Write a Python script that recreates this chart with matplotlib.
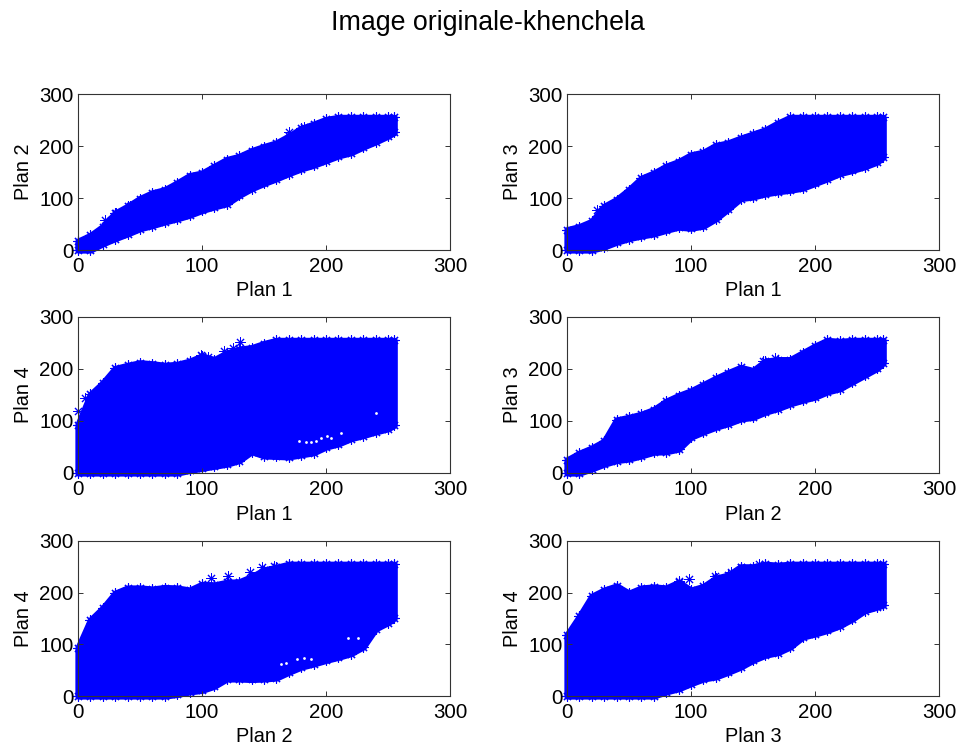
"""Nuages de points entre plans de l'image, six panneaux."""

import matplotlib

matplotlib.use("Agg")
import matplotlib.pyplot as plt

plt.rcParams["font.family"] = ["Liberation Sans", "DejaVu Sans"]

PLAN_X = [0, 10, 20, 30, 40, 50, 60, 70, 80, 90, 100, 110, 120, 130, 140, 150, 160,
          170, 180, 190, 200, 210, 220, 230, 240, 250, 255]

# Enveloppes (centres des marqueurs)
P12_LOW = [0, 0, 12, 22, 31, 41, 47, 54, 60, 67, 76, 83, 89, 105, 118, 128, 137,
           147, 156, 163, 172, 181, 187, 198, 208, 219, 226]
P12_HIGH = [17, 28, 45, 71, 84, 99, 110, 116, 129, 143, 148, 161, 174, 180, 191, 199, 206,
            219, 234, 242, 251, 255, 255, 255, 255, 255, 255]

P13_LOW = [0, 0, 0, 6, 15, 22, 27, 31, 38, 44, 42, 46, 60, 79, 99, 102, 108,
           112, 115, 119, 128, 137, 147, 153, 160, 169, 179]
P13_HIGH = [39, 45, 55, 84, 97, 116, 138, 148, 161, 170, 183, 188, 201, 206, 215, 223, 231,
            244, 255, 255, 255, 255, 255, 255, 255, 255, 255]

P14_LOW = [0, 0, 0, 0, 0, 0, 0, 0, 0, 5, 9, 13, 17, 24, 41, 33, 32,
           31, 35, 39, 50, 56, 66, 72, 79, 85, 92]
P14_HIGH = [93, 151, 173, 201, 207, 212, 210, 207, 209, 215, 225, 218, 231, 238, 241, 249, 255,
            255, 255, 255, 255, 255, 255, 255, 255, 255, 255]

P23_LOW = [0, 0, 8, 17, 24, 27, 33, 40, 41, 46, 69, 79, 88, 95, 104, 107, 117,
           124, 133, 140, 146, 156, 162, 175, 188, 201, 212]
P23_HIGH = [25, 38, 48, 61, 102, 107, 113, 122, 138, 149, 158, 170, 182, 193, 203, 197, 215,
            218, 218, 231, 244, 255, 253, 255, 255, 255, 255]

P24_LOW = [0, 0, 0, 0, 0, 0, 0, 0, 3, 8, 11, 19, 33, 33, 32, 33, 35,
           46, 56, 62, 69, 75, 82, 95, 130, 142, 151]
P24_HIGH = [93, 147, 170, 199, 209, 209, 207, 210, 209, 205, 216, 215, 220, 221, 231, 244, 249,
            255, 255, 255, 255, 255, 255, 255, 255, 255, 255]

P34_LOW = [0, 0, 0, 0, 0, 0, 0, 0, 8, 14, 24, 33, 37, 46, 56, 69, 79,
           84, 95, 114, 120, 127, 136, 149, 165, 172, 176]
P34_HIGH = [118, 154, 193, 205, 213, 199, 209, 211, 209, 220, 205, 212, 228, 234, 250, 250, 255,
            253, 255, 255, 255, 255, 255, 255, 255, 255, 255]

# Points isolés bien visibles
P12_ISOLES = [(22, 58), (31, 71), (42, 85), (170, 226), (182, 236)]
P13_ISOLES = [(24, 76), (178, 248)]
P14_ISOLES = [(0, 120), (6, 145), (99, 226), (105, 224), (118, 235), (125, 240), (131, 251)]
P23_ISOLES = [(158, 215), (168, 222)]
P24_ISOLES = [(107, 228), (121, 232), (139, 240), (148, 250), (158, 252)]
P34_ISOLES = [(90, 222), (98, 227), (119, 232), (132, 240), (140, 250), (155, 255)]

# Petits trous blancs à l'intérieur des nuages
P14_TROUS = [(178, 62), (184, 60), (188, 60), (192, 62), (196, 68), (201, 72), (204, 68),
             (212, 76), (240, 116)]
P24_TROUS = [(164, 62), (168, 64), (177, 72), (182, 74), (188, 72), (218, 112), (226, 112)]

PANELS = [
    ("Plan 1", "Plan 2", P12_LOW, P12_HIGH, P12_ISOLES, []),
    ("Plan 1", "Plan 3", P13_LOW, P13_HIGH, P13_ISOLES, []),
    ("Plan 1", "Plan 4", P14_LOW, P14_HIGH, P14_ISOLES, P14_TROUS),
    ("Plan 2", "Plan 3", P23_LOW, P23_HIGH, P23_ISOLES, []),
    ("Plan 2", "Plan 4", P24_LOW, P24_HIGH, P24_ISOLES, P24_TROUS),
    ("Plan 3", "Plan 4", P34_LOW, P34_HIGH, P34_ISOLES, []),
]

WIDTH, HEIGHT = 959, 746
COLUMNS = [78, 567]
ROWS = [(94, 250), (317, 473), (541, 696)]
AXES_WIDTH = 372
STAR = (8, 2, 0)


def draw_panel(ax, xlabel, ylabel, low, high, isoles, trous):
    """Dessine un nuage : enveloppe remplie, étoiles de bord, points isolés."""
    ax.fill_between(PLAN_X, low, high, facecolor="#0000ff", edgecolor="#0000ff",
                    linewidth=4.5, clip_on=False, zorder=1)
    for values in (low, high):
        ax.plot(PLAN_X, values, linestyle="none", marker=STAR, markersize=7.2,
                markeredgewidth=0.8, color="#0000ff", clip_on=False, zorder=1.2)
    if isoles:
        ax.plot([p[0] for p in isoles], [p[1] for p in isoles], linestyle="none",
                marker=STAR, markersize=7.2, markeredgewidth=0.7, color="#0000ff",
                clip_on=False, zorder=1.2)
    if trous:
        ax.plot([p[0] for p in trous], [p[1] for p in trous], linestyle="none",
                marker="o", markersize=2.0, markeredgewidth=0, color="white",
                zorder=1.4)

    ax.set_xlim(0, 300)
    ax.set_ylim(0, 300)
    ax.set_xticks([0, 100, 200, 300])
    ax.set_yticks([0, 100, 200, 300])
    ax.tick_params(direction="in", length=3.5, width=0.7, top=True, right=True,
                   labelsize=14.8, color="#333333", labelcolor="black")
    ax.tick_params(axis="x", pad=5)
    ax.tick_params(axis="y", pad=3)
    for spine in ax.spines.values():
        spine.set_linewidth(0.8)
        spine.set_color("#333333")
    ax.set_xlabel(xlabel, fontsize=14.3, labelpad=4)
    ax.set_ylabel(ylabel, fontsize=14.3, labelpad=5)


def main():
    fig = plt.figure(figsize=(WIDTH / 100, HEIGHT / 100), dpi=100)
    for i, (xlabel, ylabel, low, high, isoles, trous) in enumerate(PANELS):
        top, bottom = ROWS[i // 2]
        left = COLUMNS[i % 2]
        ax = fig.add_axes([left / WIDTH, 1 - bottom / HEIGHT,
                           AXES_WIDTH / WIDTH, (bottom - top) / HEIGHT])
        draw_panel(ax, xlabel, ylabel, low, high, isoles, trous)

    fig.text(488 / WIDTH, 1 - 23 / HEIGHT, "Image originale-khenchela", fontsize=19.3,
             ha="center", va="center")
    fig.savefig("out.png", dpi=100)
    plt.close(fig)


if __name__ == "__main__":
    main()
